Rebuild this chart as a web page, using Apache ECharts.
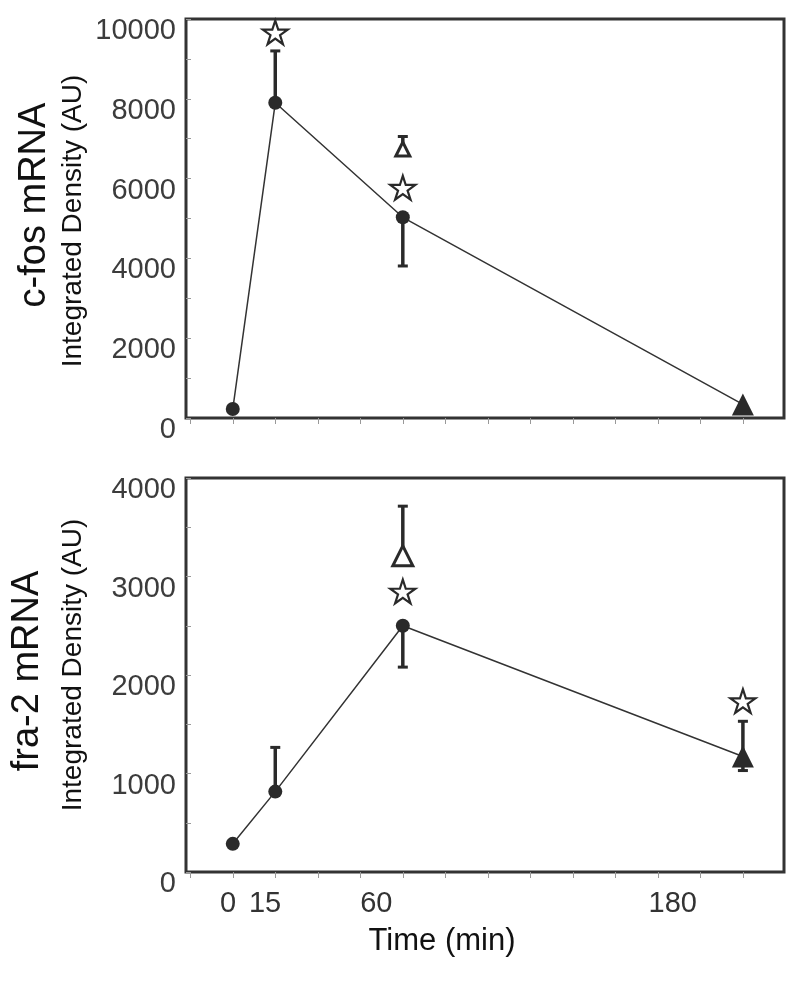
<!DOCTYPE html>
<html>
<head>
<meta charset="utf-8">
<script src="https://cdn.jsdelivr.net/npm/echarts@6/dist/echarts.min.js"></script>
<style>
  html, body { margin: 0; padding: 0; background: #fff; }
  #chart { width: 800px; height: 982px; }
</style>
</head>
<body>
<div id="chart"></div>
<script>
// ---- data ----
const times = [0, 15, 60, 180];
const timeTickLabels = [0, 15, 60, 180];
const xTicks = [-15, 0, 15, 30, 45, 60, 75, 90, 105, 120, 135, 150, 165, 180, 195];

// c-fos panel
const cfosMean = [225, 7900, 5030, 340];
const cfosSymbols = ['circle', 'circle', 'circle', 'triangle'];
const cfosErrX = [15, 60, 60];
const cfosErrFrom = [7900, 5030, 6740];
const cfosErrTo = [9200, 3810, 7055];
const cfosOpenTri = [[60, 6740]];
const cfosStars = [[15, 9665], [60, 5770]];

// fra-2 panel
const fraMean = [286, 816, 2500, 1173];
const fraSymbols = ['circle', 'circle', 'circle', 'triangle'];
const fraErrX = [15, 60, 60, 180, 180];
const fraErrFrom = [816, 2500, 3210, 1173, 1173];
const fraErrTo = [1265, 2080, 3714, 1530, 1030];
const fraOpenTri = [[60, 3210]];
const fraStars = [[60, 2847], [180, 1735]];

// ---- styling ----
const DARK = '#2a2a2a';
const FONT = '"Liberation Sans", Arial, Helvetica, sans-serif';
const STAR = 'path://M50 0 L61.23 34.55 L97.55 34.55 L68.16 55.9 L79.39 90.45 L50 69.1 L20.61 90.45 L31.84 55.9 L2.45 34.55 L38.77 34.55 Z';

function lineData(means, symbols) {
  return times.map((t, i) => ({
    value: [t, means[i]],
    symbol: symbols[i],
    symbolSize: symbols[i] === 'triangle' ? 22 : 14
  }));
}
function errData(xs, from, to) {
  return xs.map((x, i) => [x, from[i], to[i]]);
}
function renderErr(params, api) {
  const p1 = api.coord([api.value(0), api.value(1)]);
  const p2 = api.coord([api.value(0), api.value(2)]);
  return {
    type: 'group',
    children: [
      { type: 'line', shape: { x1: p1[0], y1: p1[1], x2: p2[0], y2: p2[1] }, style: { stroke: DARK, lineWidth: 3.5 } },
      { type: 'line', shape: { x1: p2[0] - 5, y1: p2[1], x2: p2[0] + 5, y2: p2[1] }, style: { stroke: DARK, lineWidth: 3 } }
    ]
  };
}

function xAxisBase(gi) {
  return {
    gridIndex: gi, type: 'value', min: -16.5, max: 194.5,
    axisLine: { show: false, onZero: false },
    axisTick: { show: true, customValues: xTicks, inside: false, length: 6, lineStyle: { color: '#999', width: 1 } },
    axisLabel: { show: false },
    splitLine: { show: false }
  };
}
function yAxisBase(gi, max, interval) {
  return {
    gridIndex: gi, type: 'value', min: 0, max: max, interval: interval,
    axisLine: { show: false, onZero: false },
    axisTick: { show: true, inside: true, length: 5, lineStyle: { color: '#999', width: 1 } },
    minorTick: { show: true, splitNumber: 2, length: 5, lineStyle: { color: '#999', width: 1 } },
    axisLabel: {
      fontSize: 29, color: '#3c3c3c', fontFamily: FONT, margin: 10,
      verticalAlign: 'top', lineHeight: 24,
      formatter: (v) => String(v)
    },
    splitLine: { show: false },
    minorSplitLine: { show: false }
  };
}

const chart = echarts.init(document.getElementById('chart'), null, { renderer: 'canvas' });
chart.setOption({
  animation: false,
  backgroundColor: '#fff',
  grid: [
    { left: 186, top: 19, width: 598, height: 399, show: true, borderColor: '#333', borderWidth: 3, backgroundColor: 'transparent' },
    { left: 186, top: 478, width: 598, height: 394, show: true, borderColor: '#333', borderWidth: 3, backgroundColor: 'transparent' }
  ],
  xAxis: [
    xAxisBase(0),
    xAxisBase(1),
    {
      gridIndex: 1, type: 'value', min: -17, max: 225, position: 'bottom',
      axisLine: { show: false, onZero: false }, axisTick: { show: false }, splitLine: { show: false },
      axisLabel: { customValues: timeTickLabels, fontSize: 29, color: '#333', fontFamily: FONT, margin: 17 }
    }
  ],
  yAxis: [
    yAxisBase(0, 10000, 2000),
    yAxisBase(1, 4000, 1000)
  ],
  graphic: [
    { type: 'text', x: 35, y: 205, rotation: Math.PI / 2, style: { text: 'c-fos mRNA', fontSize: 38, fontFamily: FONT, fill: '#111', textAlign: 'center', textVerticalAlign: 'middle' } },
    { type: 'text', x: 73, y: 221, rotation: Math.PI / 2, style: { text: 'Integrated Density (AU)', fontSize: 28, fontFamily: FONT, fill: '#111', textAlign: 'center', textVerticalAlign: 'middle' } },
    { type: 'text', x: 28, y: 671, rotation: Math.PI / 2, style: { text: 'fra-2 mRNA', fontSize: 38, fontFamily: FONT, fill: '#111', textAlign: 'center', textVerticalAlign: 'middle' } },
    { type: 'text', x: 73, y: 665, rotation: Math.PI / 2, style: { text: 'Integrated Density (AU)', fontSize: 28, fontFamily: FONT, fill: '#111', textAlign: 'center', textVerticalAlign: 'middle' } },
    { type: 'text', x: 442, y: 941, style: { text: 'Time (min)', fontSize: 31, fontFamily: FONT, fill: '#111', textAlign: 'center', textVerticalAlign: 'middle' } }
  ],
  series: [
    { type: 'custom', xAxisIndex: 0, yAxisIndex: 0, z: 1, renderItem: renderErr, data: errData(cfosErrX, cfosErrFrom, cfosErrTo) },
    { type: 'line', xAxisIndex: 0, yAxisIndex: 0, z: 3, data: lineData(cfosMean, cfosSymbols),
      lineStyle: { color: '#333', width: 1.5 }, itemStyle: { color: DARK, borderWidth: 0, opacity: 1 } },
    { type: 'scatter', xAxisIndex: 0, yAxisIndex: 0, z: 4, symbol: 'triangle', symbolSize: 14, data: cfosOpenTri,
      itemStyle: { color: '#fff', borderColor: DARK, borderWidth: 3, opacity: 1 } },
    { type: 'scatter', xAxisIndex: 0, yAxisIndex: 0, z: 4, symbol: STAR, symbolSize: 25, symbolKeepAspect: true, data: cfosStars,
      itemStyle: { color: '#fff', borderColor: DARK, borderWidth: 2.2, opacity: 1 } },

    { type: 'custom', xAxisIndex: 1, yAxisIndex: 1, z: 1, renderItem: renderErr, data: errData(fraErrX, fraErrFrom, fraErrTo) },
    { type: 'line', xAxisIndex: 1, yAxisIndex: 1, z: 3, data: lineData(fraMean, fraSymbols),
      lineStyle: { color: '#333', width: 1.5 }, itemStyle: { color: DARK, borderWidth: 0, opacity: 1 } },
    { type: 'scatter', xAxisIndex: 1, yAxisIndex: 1, z: 4, symbol: 'triangle', symbolSize: 20, data: fraOpenTri,
      itemStyle: { color: '#fff', borderColor: DARK, borderWidth: 3, opacity: 1 } },
    { type: 'scatter', xAxisIndex: 1, yAxisIndex: 1, z: 4, symbol: STAR, symbolSize: 25, symbolKeepAspect: true, data: fraStars,
      itemStyle: { color: '#fff', borderColor: DARK, borderWidth: 2.2, opacity: 1 } }
  ]
});
</script>
</body>
</html>
